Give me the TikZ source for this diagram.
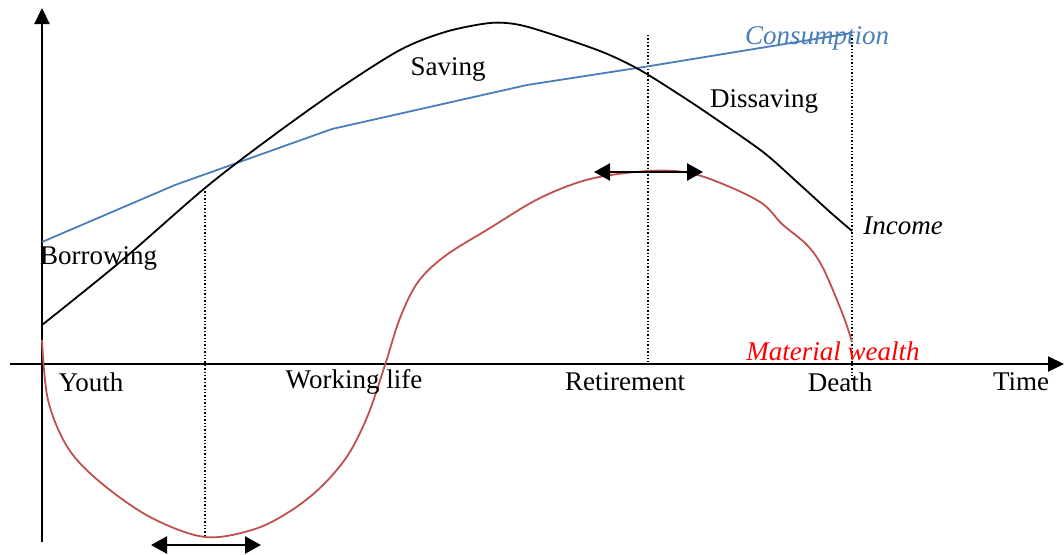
\documentclass[tikz,border=0pt]{standalone}
\usepackage{fontspec}
\setmainfont{Liberation Serif}
\usetikzlibrary{arrows.meta}
\definecolor{consblue}{HTML}{4A7EBB}
\definecolor{wealthred}{HTML}{C0504D}
\begin{document}
\begin{tikzpicture}[x=1pt,y=-1pt,
  axis/.style={line width=2.2pt,-{Triangle[length=16pt,width=15pt]}},
  curve/.style={line width=1.8pt,line join=round},
  guide/.style={line width=1.4pt,dotted},
  dbl/.style={line width=2.4pt,{Triangle[length=16pt,width=17pt]}-{Triangle[length=16pt,width=17pt]}},
  lbl/.style={font=\fontsize{27}{30}\selectfont,inner sep=0pt}]
\useasboundingbox (0,0) rectangle (1064,554);
% axes
\coordinate (ybot) at (42,542);
\coordinate (ytop) at (42,8);
\coordinate (xl) at (10,364);
\coordinate (xr) at (1064,364);
\draw[axis] (ybot) -- (ytop);
\draw[axis] (xl) -- (xr);
% guides
\coordinate (g1t) at (205,188); \coordinate (g1b) at (205,537);
\coordinate (g2t) at (648,35);  \coordinate (g2b) at (648,362);
\coordinate (g3t) at (852,35);  \coordinate (g3b) at (852,380);
\draw[guide] (g1t) -- (g1b);
\draw[guide] (g2t) -- (g2b);
\draw[guide] (g3t) -- (g3b);
% consumption
\draw[curve,consblue] (42,242) -- (175,185) -- (332,129) -- (527,85) -- (650,66) -- (852,33);
% income
\draw[curve,black] plot[smooth,tension=0.5] coordinates {(42,325) (120,262) (205,188) (270,138) (340,88) (400,50) (445,32) (490,23) (520,25) (560,37) (605,53) (640,70) (680,95) (713,117) (763,152) (797,182) (830,212) (852,231)};
% material wealth
\draw[curve,wealthred] plot[smooth,tension=0.55] coordinates {(42,340) (48,400) (68,448) (100,482) (150,517) (205,537) (255,529) (292,510) (322,486) (348,455) (368,415) (385,365) (400,318) (418,282) (445,256) (490,228) (540,198) (590,179) (648,171) (690,173) (730,187) (763,204) (782,224) (807,245) (823,268) (843,315) (852,342)};
% double arrows
\coordinate (a1l) at (151,545); \coordinate (a1r) at (261,545);
\coordinate (a2l) at (594,172); \coordinate (a2r) at (703,172);
\draw[dbl] (a1l) -- (a1r);
\draw[dbl] (a2l) -- (a2r);
% labels
\node[lbl] (cons) at (817,38) {\textcolor{consblue}{\itshape Consumption}};
\node[lbl] (sav) at (448,69) {Saving};
\node[lbl] (dis) at (764,101) {Dissaving};
\node[lbl] (inc) at (903,226) {\itshape Income};
\node[lbl,anchor=west] (bor) at (40,258) {Borrowing};
\node[lbl] (mw) at (833,351) {\textcolor{red}{\itshape Material wealth}};
\node[lbl] (yo) at (91,382) {Youth};
\node[lbl] (wl) at (354,382) {Working life};
\node[lbl] (ret) at (625,382) {Retirement};
\node[lbl] (de) at (840,382) {Death};
\node[lbl] (ti) at (1021,382) {Time};
\end{tikzpicture}
\end{document}
